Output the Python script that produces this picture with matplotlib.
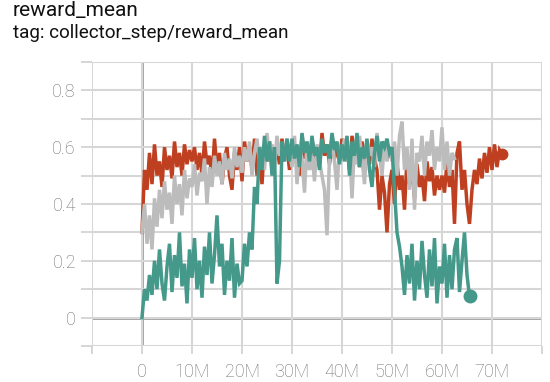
import numpy as np
import matplotlib
matplotlib.use("Agg")
import matplotlib.pyplot as plt
from matplotlib.ticker import FixedLocator, FuncFormatter

step_m = 0.5

red_vals = [
    0.30, 0.52, 0.45, 0.58, 0.47, 0.61, 0.50, 0.55, 0.46, 0.60, 0.52, 0.57, 0.49, 0.62, 0.53, 0.58, 0.50, 0.61, 0.54, 0.59,
    0.55, 0.60, 0.52, 0.58, 0.50, 0.62, 0.54, 0.57, 0.49, 0.63, 0.52, 0.58, 0.47, 0.56, 0.60, 0.50, 0.45, 0.58, 0.52, 0.60,
    0.48, 0.62, 0.55, 0.60, 0.52, 0.63, 0.50, 0.58, 0.47, 0.61, 0.55, 0.62, 0.53, 0.58, 0.60, 0.54, 0.63, 0.56, 0.60, 0.52,
    0.62, 0.55, 0.60, 0.50, 0.64, 0.56, 0.59, 0.52, 0.63, 0.55, 0.60, 0.53, 0.65, 0.57, 0.61, 0.54, 0.62, 0.56, 0.60, 0.55,
    0.63, 0.56, 0.60, 0.52, 0.64, 0.57, 0.61, 0.53, 0.62, 0.55, 0.60, 0.54, 0.63, 0.56, 0.52, 0.38, 0.50, 0.44, 0.30, 0.47,
    0.52, 0.40, 0.55, 0.45, 0.50, 0.38, 0.56, 0.47, 0.52, 0.42, 0.54, 0.46, 0.50, 0.41, 0.55, 0.48, 0.53, 0.43, 0.50, 0.45,
    0.50, 0.44, 0.55, 0.46, 0.52, 0.33, 0.58, 0.62, 0.45, 0.52, 0.40, 0.33, 0.45, 0.52, 0.47, 0.56, 0.49, 0.58, 0.51, 0.60,
    0.52, 0.61, 0.53, 0.59, 0.575,
]

gray_vals = [
    0.30, 0.40, 0.26, 0.36, 0.24, 0.42, 0.32, 0.45, 0.35, 0.48, 0.38, 0.44, 0.33, 0.50, 0.40, 0.47, 0.36, 0.52, 0.42, 0.49,
    0.46, 0.54, 0.43, 0.51, 0.48, 0.56, 0.40, 0.53, 0.46, 0.57, 0.50, 0.55, 0.47, 0.58, 0.52, 0.56, 0.49, 0.60, 0.53, 0.57,
    0.51, 0.60, 0.55, 0.62, 0.50, 0.58, 0.63, 0.54, 0.60, 0.52, 0.65, 0.56, 0.61, 0.53, 0.64, 0.57, 0.60, 0.55, 0.63, 0.58,
    0.53, 0.64, 0.47, 0.60, 0.56, 0.44, 0.62, 0.52, 0.58, 0.48, 0.61, 0.55, 0.50, 0.45, 0.29, 0.57, 0.63, 0.55, 0.45, 0.60,
    0.58, 0.63, 0.55, 0.60, 0.42, 0.61, 0.54, 0.64, 0.56, 0.47, 0.62, 0.57, 0.60, 0.53, 0.65, 0.58, 0.50, 0.62, 0.55, 0.60,
    0.55, 0.62, 0.50, 0.64, 0.69, 0.52, 0.60, 0.45, 0.63, 0.38, 0.58, 0.55, 0.64, 0.50, 0.62, 0.57, 0.66, 0.52, 0.60, 0.55,
    0.67, 0.52, 0.62, 0.50, 0.58, 0.56,
]

teal_vals = [
    0.00, 0.10, 0.06, 0.15, 0.08, 0.20, 0.10, 0.24, 0.12, 0.06, 0.18, 0.26, 0.09, 0.22, 0.14, 0.30, 0.11, 0.19, 0.05, 0.24,
    0.14, 0.28, 0.10, 0.20, 0.07, 0.25, 0.15, 0.30, 0.12, 0.22, 0.36, 0.18, 0.26, 0.08, 0.20, 0.13, 0.28, 0.07, 0.19, 0.12,
    0.13, 0.26, 0.18, 0.30, 0.24, 0.46, 0.40, 0.60, 0.52, 0.64, 0.55, 0.62, 0.50, 0.60, 0.12, 0.20, 0.62, 0.55, 0.63, 0.55,
    0.63, 0.56, 0.61, 0.53, 0.65, 0.58, 0.62, 0.55, 0.64, 0.57, 0.60, 0.52, 0.63, 0.58, 0.61, 0.56, 0.65, 0.59, 0.62, 0.54,
    0.61, 0.55, 0.64, 0.50, 0.62, 0.57, 0.65, 0.53, 0.60, 0.56, 0.63, 0.52, 0.46, 0.58, 0.64, 0.55, 0.62, 0.60, 0.63, 0.58,
    0.60, 0.45, 0.30, 0.25, 0.18, 0.08, 0.22, 0.12, 0.26, 0.06, 0.20, 0.10, 0.27, 0.15, 0.07, 0.24, 0.11, 0.28, 0.05, 0.18,
    0.12, 0.26, 0.07, 0.22, 0.10, 0.24, 0.28, 0.09, 0.20, 0.30, 0.15, 0.075,
]

series = [
    (red_vals, "#bf4020", True, 7.5),
    (gray_vals, "#bcbcbc", False, 0),
    (teal_vals, "#44998a", True, 9),
]

x_ticks_m = [-10, 0, 10, 20, 30, 40, 50, 60, 70, 80]
y_ticks = [-0.1, 0, 0.1, 0.2, 0.3, 0.4, 0.5, 0.6, 0.7, 0.8, 0.9]

plt.rcParams['font.family'] = ['Roboto', 'DejaVu Sans']

fig = plt.figure(figsize=(5.5, 3.82), dpi=100)
ax = fig.add_axes([92 / 550, 1 - 346 / 382, 450 / 550, 284 / 382])

for vals, color, dot, ms in series:
    xs = np.arange(len(vals)) * step_m * 1e6
    ax.plot(xs, vals, color=color, lw=2.5, solid_joinstyle='miter', zorder=3)
    if dot:
        ax.plot(xs[-1], vals[-1], 'o', color=color, ms=ms, zorder=4)

ax.set_xlim(-10e6, 80e6)
ax.set_ylim(-0.1, 0.9)
ax.xaxis.set_major_locator(FixedLocator([v * 1e6 for v in x_ticks_m]))
ax.yaxis.set_major_locator(FixedLocator(y_ticks))


def fmt_x(v, pos):
    m = int(round(v / 1e6))
    if m < 0 or m > 70:
        return ""
    return "0" if m == 0 else f"{m}M"


def fmt_y(v, pos):
    r = round(v, 1)
    if r in (0.2, 0.4, 0.6, 0.8):
        return f"{r:.1f}"
    if abs(r) < 1e-9:
        return "0"
    return ""


ax.xaxis.set_major_formatter(FuncFormatter(fmt_x))
ax.yaxis.set_major_formatter(FuncFormatter(fmt_y))

for s in ax.spines.values():
    s.set_visible(False)
ax.grid(True, color="#d6d6d6", lw=1.5, zorder=0)
ax.axhline(0, color="#9e9e9e", lw=2, zorder=1)
ax.axvline(0, color="#9e9e9e", lw=2, zorder=1)
ax.tick_params(axis='y', length=8, width=1.2, color="#cfcfcf", pad=3.6,
               labelsize=13, labelcolor="#707070")
ax.tick_params(axis='x', length=6, width=1.2, color="#cfcfcf", pad=6,
               labelsize=13, labelcolor="#707070")
for lab in ax.get_xticklabels() + ax.get_yticklabels():
    lab.set_fontweight('light')

fig.text(13 / 550, 1 - 1 / 382, "reward_mean", fontsize=15, va='top', ha='left', color="#111111")
fig.text(13 / 550, 1 - 24 / 382, "tag: collector_step/reward_mean", fontsize=13.6, va='top', ha='left',
         color="#111111")

fig.savefig("out.png", dpi=100)
